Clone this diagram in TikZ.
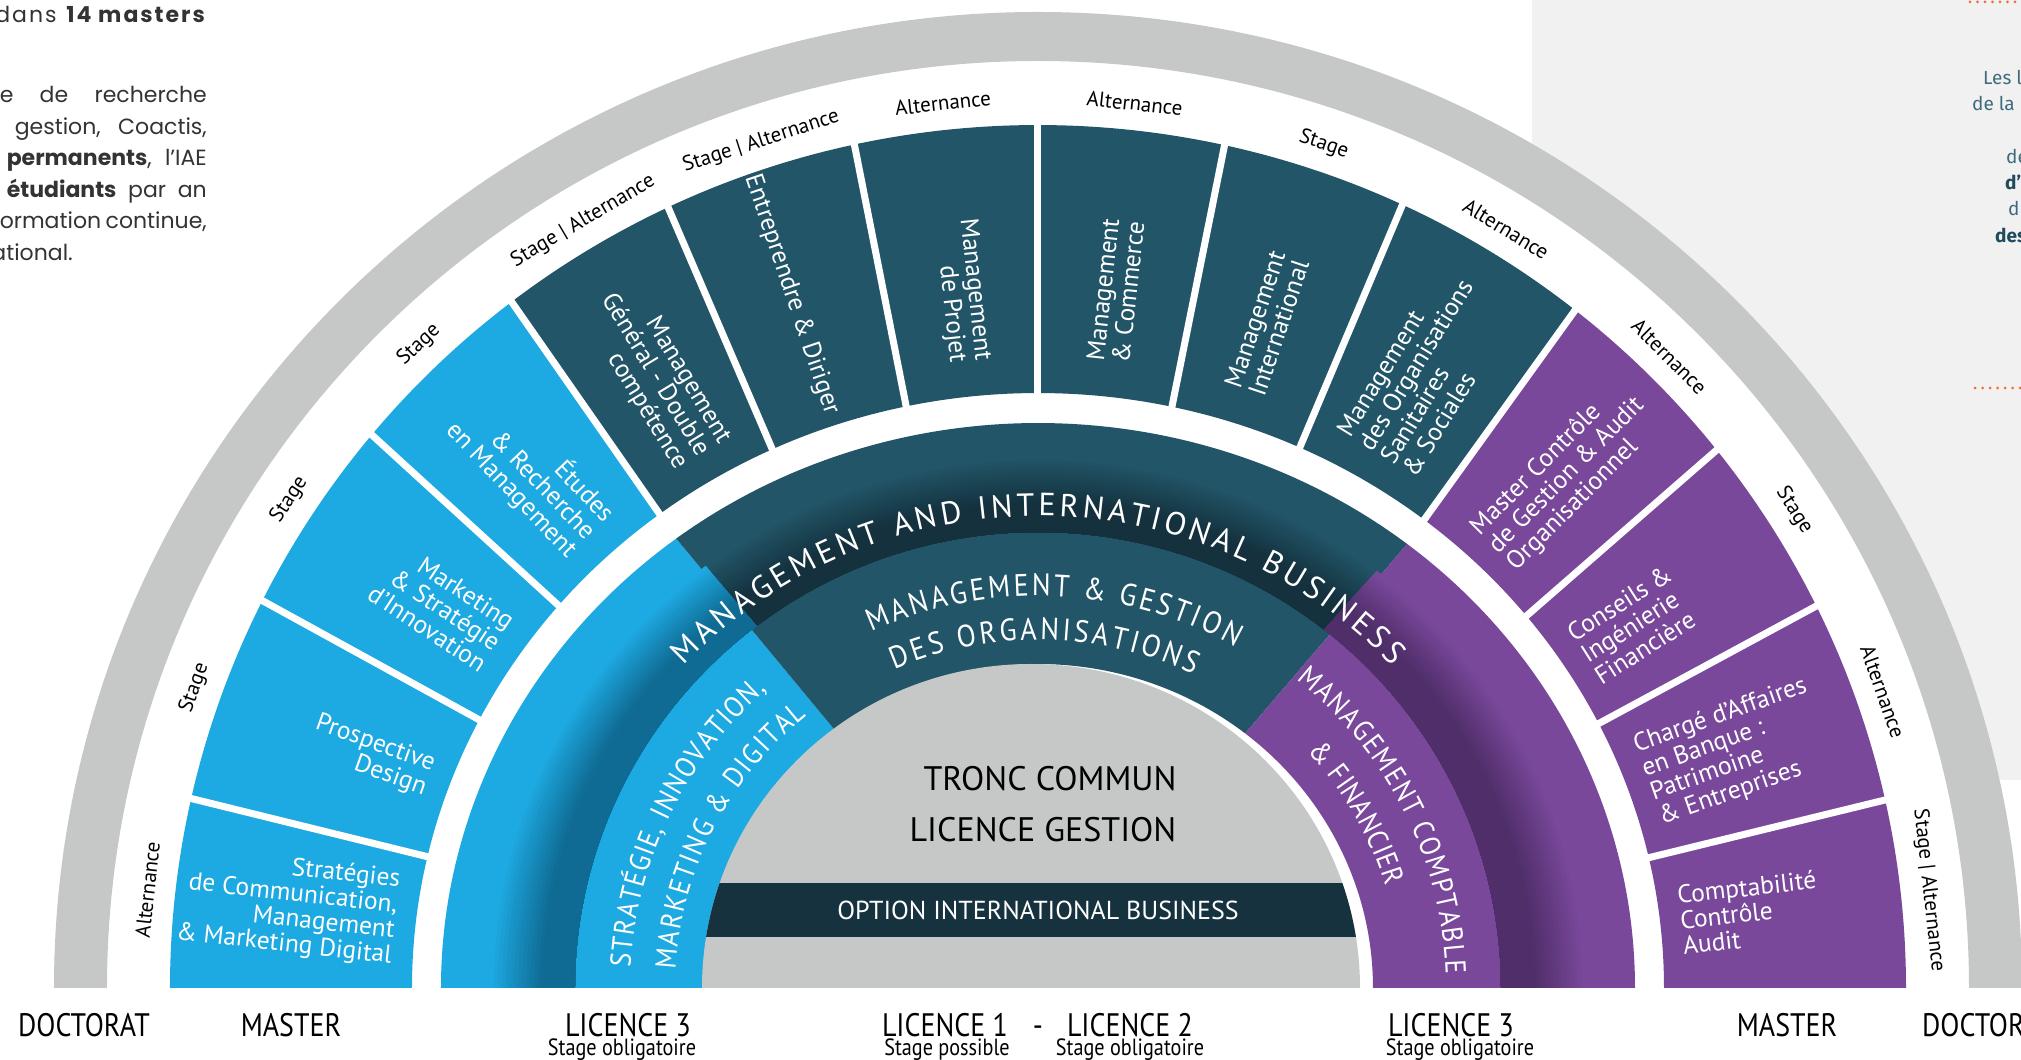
\documentclass[tikz,border=0pt]{standalone}
\usepackage{fontspec}
\usetikzlibrary{decorations.text}
\setmainfont{PT Sans}
\newfontfamily\popfont{Poppins}
\newfontfamily\popspaced[LetterSpace=9]{Poppins}
\newfontfamily\firafont{Fira Sans}
\newfontfamily\condfont[FakeStretch=0.86]{PT Sans}
\newfontfamily\ringfont[FakeStretch=0.9]{PT Sans}

\definecolor{cblue}{HTML}{1DA9E1}
\definecolor{cbluedk}{HTML}{0F6B93}
\definecolor{cteal}{HTML}{215567}
\definecolor{ctealdk}{HTML}{15313E}
\definecolor{cpurp}{HTML}{79489B}
\definecolor{cpurpdk}{HTML}{4F2E69}
\definecolor{cgray}{HTML}{C6C8C7}
\definecolor{cbar}{HTML}{17323F}
\definecolor{cpanel}{HTML}{F1F1F1}
\definecolor{corange}{HTML}{F26A3B}
\definecolor{ctxt}{HTML}{333333}
\definecolor{cside}{HTML}{3E6C7B}
\definecolor{csidebold}{HTML}{1F4B5B}

% color, th1, th2, Ra, Rb, ra, rb
\newcommand{\ringsec}[7]{%
  \fill[#1] (#2:#4pt and #5pt) arc[start angle=#2, end angle=#3, x radius=#4pt, y radius=#5pt]
    -- (#3:#6pt and #7pt) arc[start angle=#3, end angle=#2, x radius=#6pt, y radius=#7pt] -- cycle;}
% base, dark, th1, th2
\newcommand{\shadeband}[4]{%
  \foreach \k in {0,...,20}{%
    \pgfmathsetmacro{\bra}{548-\k*85/21}%
    \pgfmathsetmacro{\brb}{531-\k*75/21}%
    \pgfmathsetmacro{\bpc}{min(100,\k*8)}%
    \ringsec{#2!\bpc!#1}{#3}{#4}{\bra}{\brb}{463}{456}%
  }}
\newcommand{\ringtxt}{\ringfont\fontsize{29}{29}\selectfont\color{white}}
\newcommand{\tealtxt}{\ringfont\fontsize{31}{31}\selectfont\color{white}}
\newcommand{\bigringtxt}{\fontsize{32}{32}\selectfont\color{white}}

\begin{document}
\begin{tikzpicture}[x=1pt,y=1pt,
  segtext/.style={text=white, font=\fontsize{25.5}{25.5}\selectfont, inner sep=0pt},
  segl/.style={segtext, anchor=east, align=right},
  segr/.style={segtext, anchor=west, align=left},
  bandlbl/.style={text=black, font=\fontsize{21}{21}\selectfont, inner sep=0pt},
  botlbl/.style={text=black, font=\condfont\fontsize{32.5}{32.5}\selectfont, inner sep=0pt, anchor=base},
  sublbl/.style={text=black, font=\condfont\fontsize{23.5}{23.5}\selectfont, inner sep=0pt, anchor=base},
  paratext/.style={text=ctxt, font=\popfont\fontsize{22}{22}\selectfont, inner sep=0pt, anchor=base east},
  sidetext/.style={text=cside, font=\firafont\fontsize{19}{19}\selectfont, inner sep=0pt, anchor=base west},
  centertxt/.style={text=black, font=\fontsize{34}{34}\selectfont, inner sep=0pt},
  dots/.style={corange, line width=3pt, line cap=round, dash pattern=on 0pt off 7.5pt}
]
\useasboundingbox (-1038,-72) rectangle (983,988);

% right panel
\fill[cpanel] (494,208) rectangle (983,988);
\coordinate (d1a) at (932,986); \coordinate (d1b) at (990,986);
\coordinate (d2a) at (937,600); \coordinate (d2b) at (990,600);
\draw[dots] (d1a) -- (d1b);
\draw[dots] (d2a) -- (d2b);

% white disc + gray ring
\fill[white] (0:984pt and 976pt) arc[start angle=0, end angle=180, x radius=984pt, y radius=976pt] -- cycle;
\ringsec{cgray}{0}{180}{984}{976}{931}{927}

% master ring
\ringsec{cblue}{127.3}{180}{868}{863}{626}{595}
\ringsec{cteal}{51.8}{127.3}{868}{863}{626}{595}
\ringsec{cpurp}{0}{51.8}{868}{863}{626}{595}
\foreach \t in {167.3,153.3,140.1,127.3,115.2,102.2,90,77.6,65.2,51.8,38.6,26.3,12.6}
  \draw[white, line width=7pt] (\t:610pt and 580pt) -- (\t:880pt and 875pt);

% licence 3 ring
\ringsec{cblue}{127.3}{180}{597}{565}{335}{324}
\ringsec{cteal}{51.8}{127.3}{597}{565}{335}{324}
\ringsec{cpurp}{0}{51.8}{597}{565}{335}{324}
\shadeband{cblue}{cbluedk}{127.3}{180}
\shadeband{cteal}{ctealdk}{51.8}{127.3}
\shadeband{cpurp}{cpurpdk}{0}{51.8}

% centre (slightly left of the rings' centre)
\begin{scope}[shift={(-7,0)}]
  \fill[cgray] (0:329pt and 324pt) arc[start angle=0, end angle=180, x radius=329pt, y radius=324pt] -- cycle;
  \begin{scope}
    \clip (0:329pt and 324pt) arc[start angle=0, end angle=180, x radius=329pt, y radius=324pt] -- cycle;
    \fill[cbar] (-340,51) rectangle (340,105);
  \end{scope}
\end{scope}
\node[text=white, font=\fontsize{26}{26}\selectfont, inner sep=0pt] (opt) at (0,78) {OPTION INTERNATIONAL BUSINESS};
\node[centertxt] (tronc) at (12,209) {TRONC COMMUN};
\node[centertxt] (licg) at (5,158) {LICENCE GESTION};

% curved ring texts
\path[decorate, decoration={text along path, text align={fit to path},
  text={|\bigringtxt|MANAGEMENT AND INTERNATIONAL BUSINESS}}]
  (137:484pt and 472pt) arc[start angle=137, end angle=43, x radius=484pt, y radius=472pt];
\path[decorate, decoration={text along path, text align={fit to path},
  text={|\tealtxt|MANAGEMENT {\&} GESTION}}]
  (114.6:401pt and 392pt) arc[start angle=114.6, end angle=60.5, x radius=401pt, y radius=392pt];
\path[decorate, decoration={text along path, text align={fit to path},
  text={|\tealtxt|DES ORGANISATIONS}}]
  (113.6:359pt and 348pt) arc[start angle=113.6, end angle=64.2, x radius=359pt, y radius=348pt];
\path[decorate, decoration={text along path, text align={fit to path},
  text={|\ringtxt|STRATÉGIE, INNOVATION,}}]
  (177:408pt and 399pt) arc[start angle=177, end angle=131.7, x radius=408pt, y radius=399pt];
\path[decorate, decoration={text along path, text align={fit to path},
  text={|\ringtxt|MARKETING {\&} DIGITAL}}]
  (177:363pt and 353pt) arc[start angle=177, end angle=129.5, x radius=363pt, y radius=353pt];
\path[decorate, decoration={text along path, text align={fit to path},
  text={|\ringtxt|MANAGEMENT COMPTABLE}}]
  (50.7:408pt and 399pt) arc[start angle=50.7, end angle=2, x radius=408pt, y radius=399pt];
\path[decorate, decoration={text along path, text align={fit to path},
  text={|\ringtxt|{\&} FINANCIER}}]
  (42:363pt and 353pt) arc[start angle=42, end angle=16.8, x radius=363pt, y radius=353pt];

% master texts
\node[segl, rotate=-6.35] (m1) at (173.65:646pt and 626pt) {Stratégies\\de Communication,\\Management\\\& Marketing Digital};
\node[segl, rotate=-19.7] (m2) at (160.3:646pt and 626pt) {Prospective\\Design};
\node[segl, rotate=-33.3] (m3) at (146.7:646pt and 626pt) {Marketing\\\& Stratégie\\d’Innovation};
\node[segl, rotate=-46.3] (m4) at (133.7:646pt and 626pt) {Études\\\& Recherche\\en Management};
\node[segl, rotate=-58.75] (m5) at (121.25:646pt and 624pt) {Management\\Général - Double\\compétence};
\node[segl, rotate=-71.3] (m6) at (108.7:643pt and 606pt) {Entreprendre \& Diriger};
\node[segl, rotate=-83.9] (m7) at (96.1:646pt and 630pt) {Management\\de Projet};
\node[segr, rotate=83.8] (m8) at (83.8:646pt and 630pt) {Management\\\& Commerce};
\node[segr, rotate=71.4] (m9) at (71.4:646pt and 630pt) {Management\\International};
\node[segr, rotate=58.5] (m10) at (58.5:646pt and 626pt) {Management\\des Organisations\\Sanitaires\\\& Sociales};
\node[segr, rotate=45.2] (m11) at (45.2:646pt and 618pt) {Master Contrôle\\de Gestion \& Audit\\Organisationnel};
\node[segr, rotate=32.45] (m12) at (32.45:646pt and 618pt) {Conseils \&\\Ingénierie\\Financière};
\node[segr, rotate=19.45] (m13) at (19.45:646pt and 618pt) {Chargé d’Affaires\\en Banque :\\Patrimoine\\\& Entreprises};
\node[segr, rotate=6.3] (m14) at (6.3:646pt and 618pt) {Comptabilité\\Contrôle\\Audit};

% band labels
\node[bandlbl, rotate=83.65] (b1) at (173.65:896pt and 890pt) {Alternance};
\node[bandlbl, rotate=70.3] (b2) at (160.3:896pt and 890pt) {Stage};
\node[bandlbl, rotate=56.7] (b3) at (146.7:896pt and 890pt) {Stage};
\node[bandlbl, rotate=43.7] (b4) at (133.7:896pt and 890pt) {Stage};
\node[bandlbl, rotate=30.5] (b5) at (120.5:896pt and 890pt) {Stage | Alternance};
\node[bandlbl, rotate=18.0] (b6) at (108.0:896pt and 890pt) {Stage | Alternance};
\node[bandlbl, rotate=6.1] (b7) at (96.1:896pt and 890pt) {Alternance};
\node[bandlbl, rotate=-6.2] (b8) at (83.8:896pt and 890pt) {Alternance};
\node[bandlbl, rotate=-18.6] (b9) at (71.4:896pt and 890pt) {Stage};
\node[bandlbl, rotate=-31.5] (b10) at (58.5:896pt and 890pt) {Alternance};
\node[bandlbl, rotate=-44.8] (b11) at (45.2:896pt and 890pt) {Alternance};
\node[bandlbl, rotate=-57.55] (b12) at (32.45:896pt and 890pt) {Stage};
\node[bandlbl, rotate=-70.55] (b13) at (19.45:896pt and 890pt) {Alternance};
\node[bandlbl, rotate=-83.7] (b14) at (6.3:896pt and 890pt) {Stage | Alternance};

% bottom labels
\node[botlbl] (doc1) at (-954,-48) {DOCTORAT};
\node[botlbl] (mas1) at (-747,-48) {MASTER};
\node[botlbl] (l3a) at (-410,-48) {LICENCE 3};
\node[sublbl] (l3as) at (-416,-67) {Stage obligatoire};
\node[botlbl] (l1) at (-93,-48) {LICENCE 1};
\node[sublbl] (l1s) at (-91,-67) {Stage possible};
\node[botlbl] (dash) at (0,-48) {-};
\node[botlbl] (l2) at (92,-48) {LICENCE 2};
\node[sublbl] (l2s) at (92,-67) {Stage obligatoire};
\node[botlbl] (l3b) at (413,-48) {LICENCE 3};
\node[sublbl] (l3bs) at (422,-67) {Stage obligatoire};
\node[botlbl] (mas2) at (749,-48) {MASTER};
\node[botlbl, anchor=base west] (doc2) at (884,-48) {DOCTORAT};

% top-left paragraph
\node[paratext, font=\popspaced\fontsize{22}{22}\selectfont] (p1) at (-831,965) {dans \textbf{14 masters}};
\node[paratext] (p2) at (-831,885) {\makebox[207pt][s]{e de recherche}};
\node[paratext] (p3) at (-831,853.5) {\makebox[192pt][s]{gestion, Coactis,}};
\node[paratext] (p4) at (-831,822) {\makebox[200pt][s]{\textbf{permanents}, l’IAE}};
\node[paratext] (p5) at (-831,790.5) {\makebox[200pt][s]{\textbf{étudiants} par an}};
\node[paratext] (p6) at (-831,759) {\makebox[207pt][s]{ormation continue,}};
\node[paratext] (p7) at (-965,727.5) {ational.};

% right partial text
\node[sidetext] (s1) at (945,903) {Les l};
\node[sidetext] (s2) at (934,877) {de la r};
\node[sidetext] (s3) at (968,824) {de};
\node[sidetext, text=csidebold] (s4) at (967,798) {\textbf{d’}};
\node[sidetext] (s5) at (970,772) {d};
\node[sidetext, text=csidebold] (s6) at (957,745) {\textbf{des}};
\end{tikzpicture}
\end{document}
